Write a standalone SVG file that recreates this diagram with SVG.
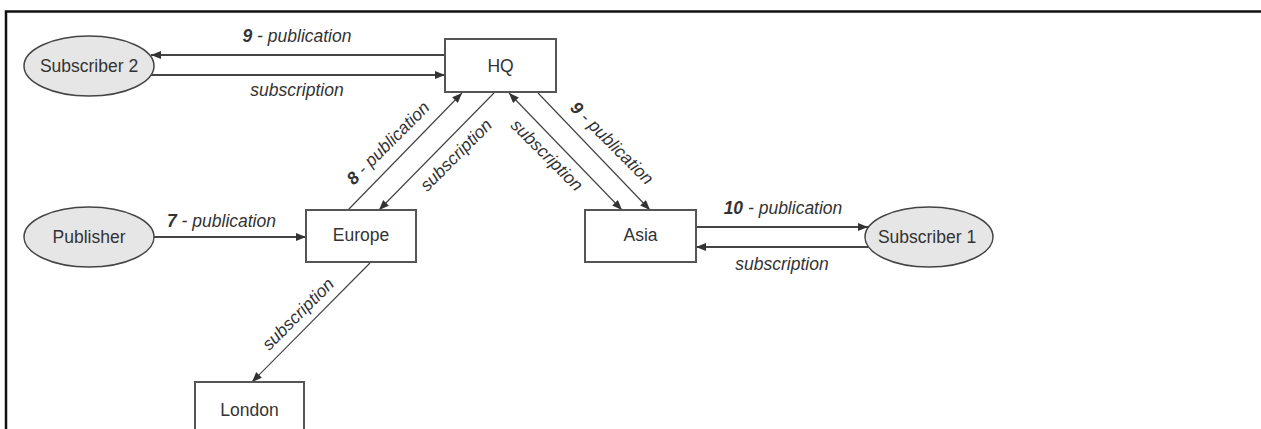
<svg xmlns="http://www.w3.org/2000/svg" width="1261" height="429" viewBox="0 0 1261 429">
<defs>
<marker id="ah" viewBox="0 0 10 8" refX="10" refY="4" markerWidth="10" markerHeight="8" markerUnits="userSpaceOnUse" orient="auto-start-reverse">
<path d="M0,0 L10,4 L0,8 Z" fill="#333"/>
</marker>
<style>
.box{fill:#fff;stroke:#555;stroke-width:2}
.ell{fill:#e6e6e6;stroke:#444;stroke-width:1.5}
.nt{font-family:"Liberation Sans",Arial,sans-serif;font-size:17.5px;fill:#333;text-anchor:middle}
.lt{font-family:"Liberation Sans",Arial,sans-serif;font-size:17.5px;font-style:italic;fill:#333;text-anchor:middle}
.lt .n{font-weight:bold}
.h{fill:none;stroke:#444;stroke-width:2}
.d{fill:none;stroke:#444;stroke-width:1.2}
</style>
</defs>
<rect width="1261" height="429" fill="#fff"/>
<path d="M6,429 V11.5 H1261" fill="none" stroke="#111" stroke-width="2.5"/>

<g id="connectors">
<line class="h" x1="445" y1="55" x2="151" y2="55" marker-end="url(#ah)"/>
<line class="h" x1="151" y1="75" x2="445" y2="75" marker-end="url(#ah)"/>
<line class="h" x1="154" y1="237" x2="306" y2="237" marker-end="url(#ah)"/>
<line class="d" x1="348" y1="210" x2="462" y2="93" marker-end="url(#ah)"/>
<line class="d" x1="494" y1="93" x2="379" y2="210" marker-end="url(#ah)"/>
<line class="d" x1="509" y1="93" x2="622" y2="210" marker-start="url(#ah)" marker-end="url(#ah)"/>
<line class="d" x1="538" y1="93" x2="650" y2="210" marker-end="url(#ah)"/>
<line class="h" x1="696" y1="227" x2="868" y2="227" marker-end="url(#ah)"/>
<line class="h" x1="868" y1="247" x2="696" y2="247" marker-end="url(#ah)"/>
<line class="d" x1="370" y1="263" x2="252" y2="382" marker-end="url(#ah)"/>

<text class="lt" x="297" y="42"><tspan class="n">9</tspan> - publication</text>
<text class="lt" x="297" y="96">subscription</text>
<text class="lt" x="221.5" y="227"><tspan class="n">7</tspan> - publication</text>
<text class="lt" x="783" y="214"><tspan class="n">10</tspan> - publication</text>
<text class="lt" x="782" y="270">subscription</text>
<text class="lt" transform="translate(389,144) rotate(-45)" y="4.5"><tspan class="n">8</tspan> - publication</text>
<text class="lt" transform="translate(457,156) rotate(-45)" y="4.5">subscription</text>
<text class="lt" transform="translate(546,156) rotate(45)" y="4.5">subscription</text>
<text class="lt" transform="translate(611,144) rotate(45)" y="4.5"><tspan class="n">9</tspan> - publication</text>
<text class="lt" transform="translate(299,315) rotate(-45)" y="4.5">subscription</text>
</g>

<g id="sub2">
<ellipse class="ell" cx="89" cy="66" rx="65" ry="30"/>
<text class="nt" x="89" y="72">Subscriber 2</text>
</g>
<g id="hq">
<rect class="box" x="445" y="39" width="111" height="53"/>
<text class="nt" x="500.5" y="71.5">HQ</text>
</g>
<g id="publisher">
<ellipse class="ell" cx="89" cy="237" rx="65" ry="30"/>
<text class="nt" x="89" y="243">Publisher</text>
</g>
<g id="europe">
<rect class="box" x="306" y="210" width="110" height="52"/>
<text class="nt" x="361" y="241">Europe</text>
</g>
<g id="asia">
<rect class="box" x="585" y="210" width="111" height="52"/>
<text class="nt" x="640.5" y="241">Asia</text>
</g>
<g id="sub1">
<ellipse class="ell" cx="929" cy="237" rx="64" ry="30"/>
<text class="nt" x="927" y="243">Subscriber 1</text>
</g>
<g id="london">
<rect class="box" x="195" y="382" width="109" height="53"/>
<text class="nt" x="249.5" y="416">London</text>
</g>
</svg>
